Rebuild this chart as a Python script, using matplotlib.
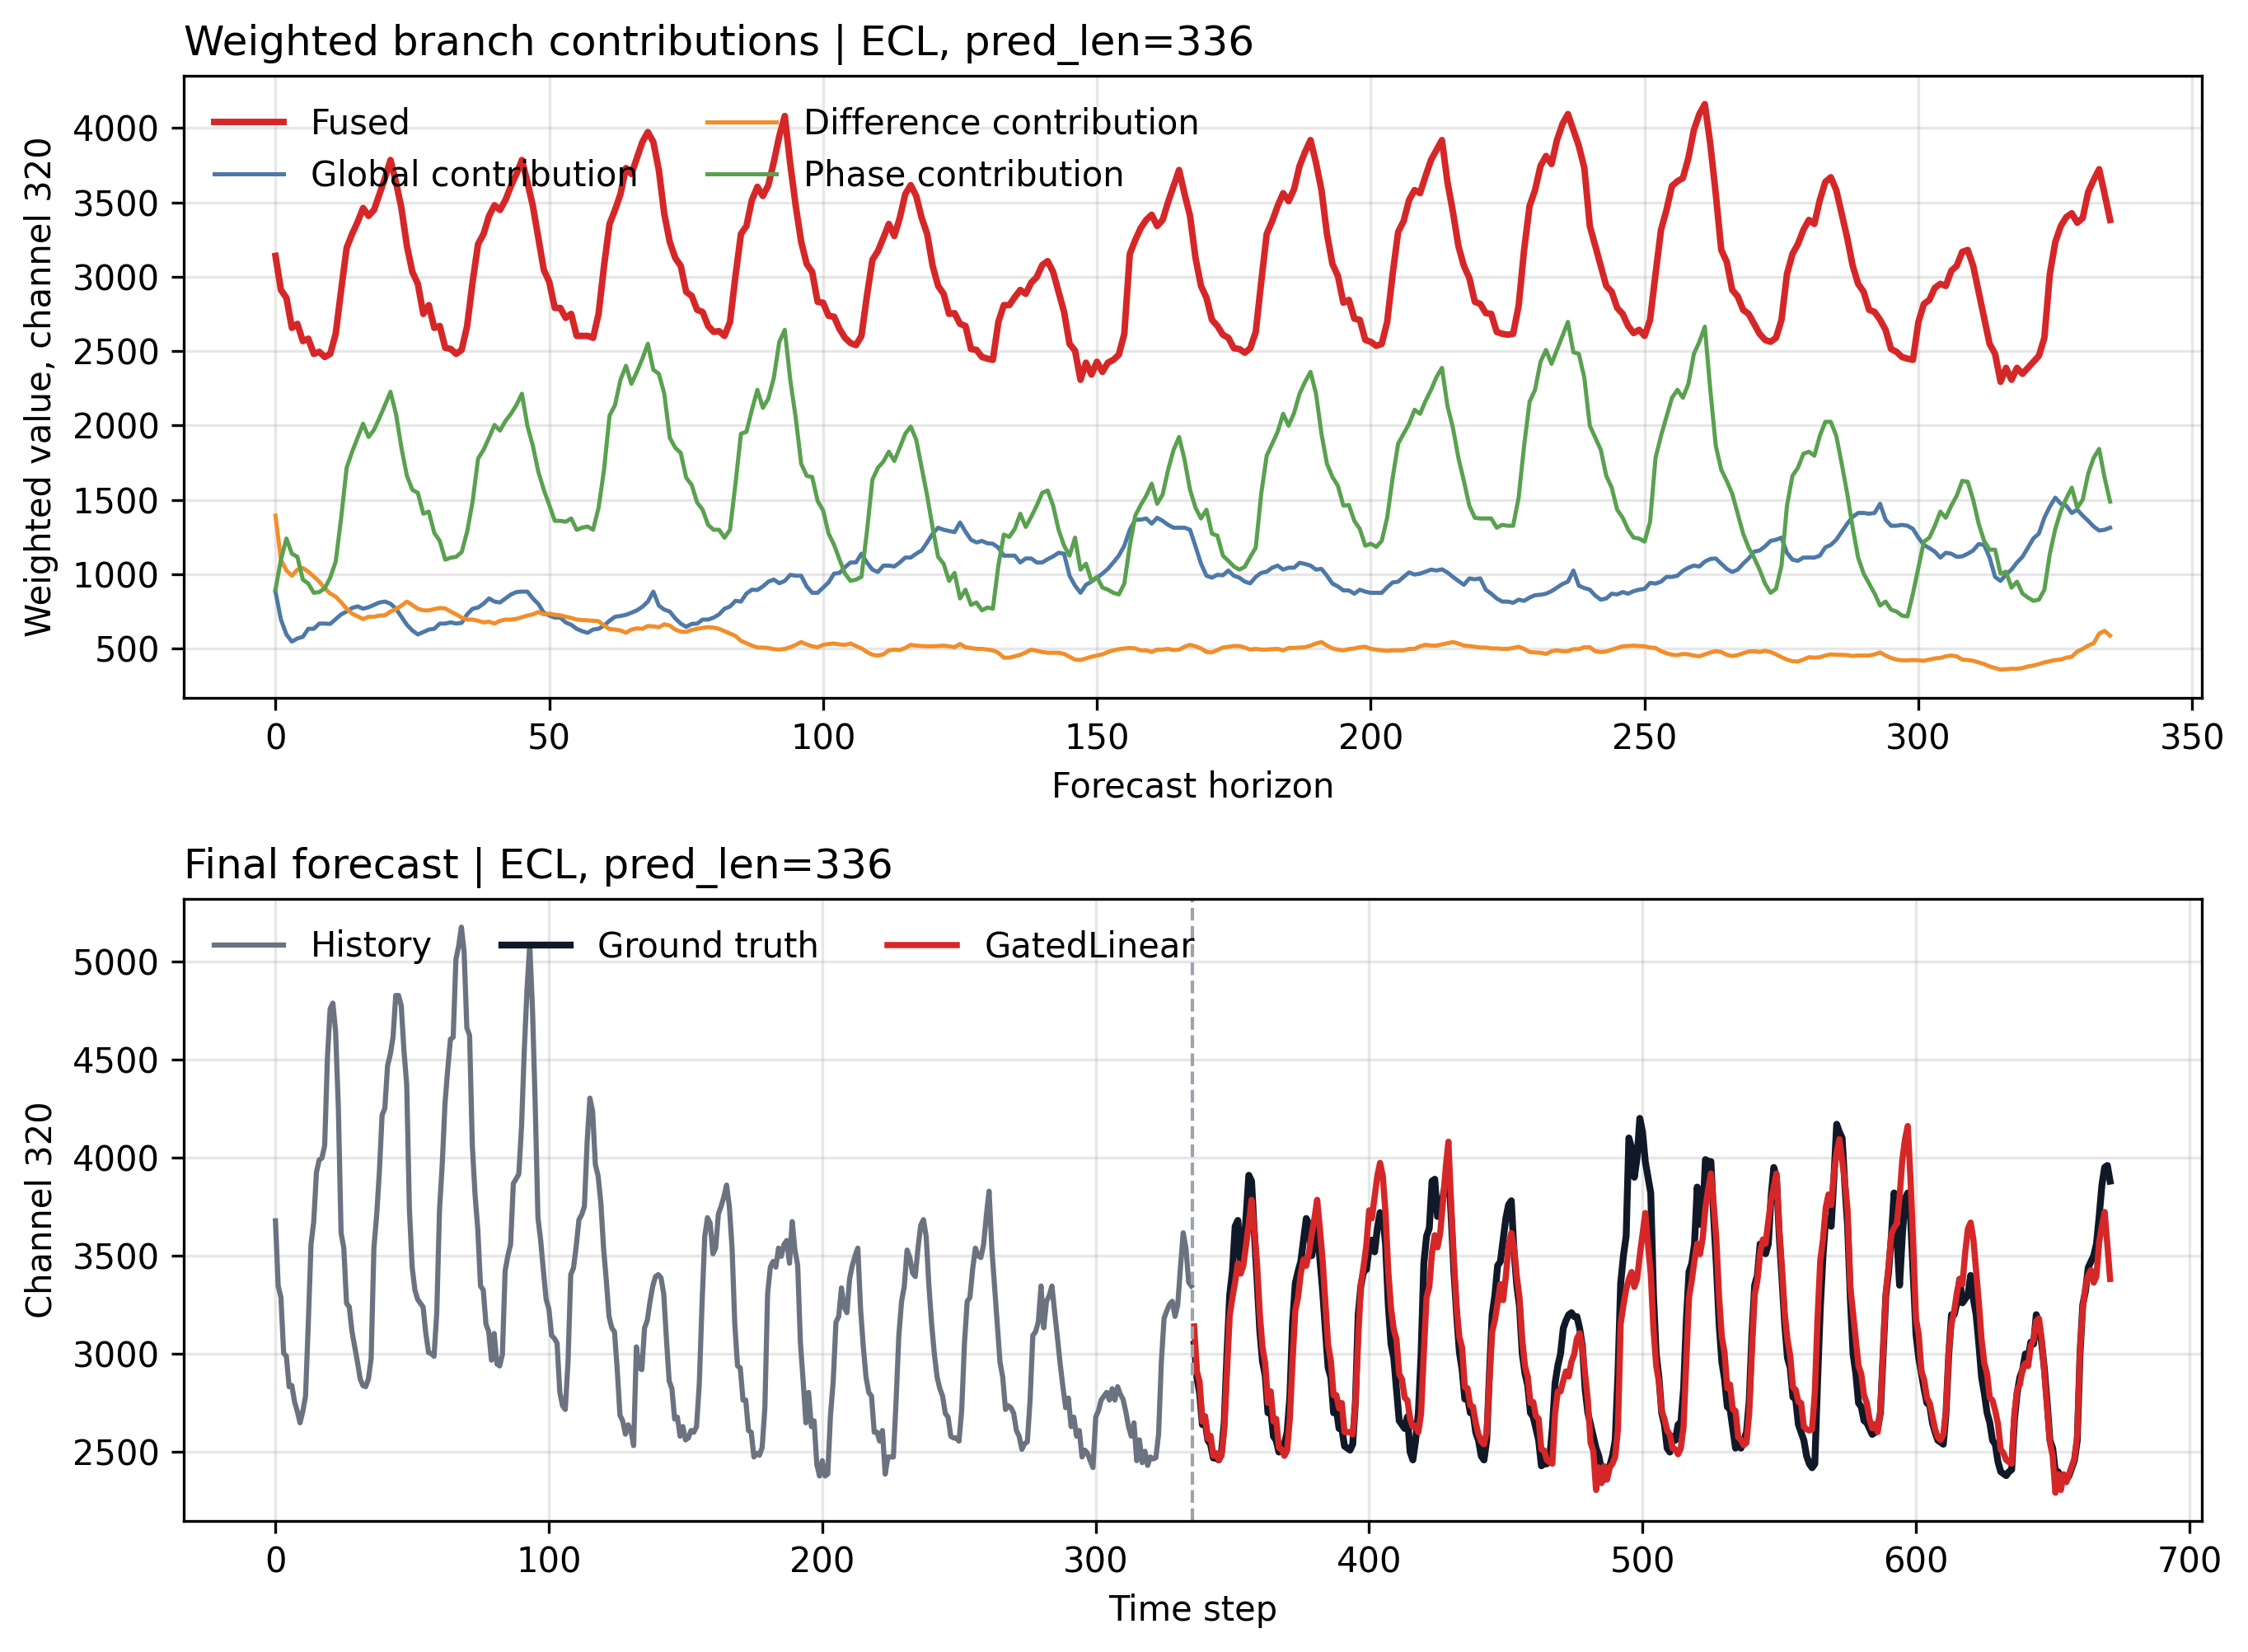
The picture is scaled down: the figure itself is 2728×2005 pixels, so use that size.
import numpy as np
import matplotlib
matplotlib.use("Agg")
import matplotlib.pyplot as plt

# ---------------- data ----------------
fused = [3140,2911,2858,2656,2683,2567,2583,2481,2495,2460,
2481,2616,2911,3194,3288,3368,3462,3409,3449,3556,
3664,3785,3637,3462,3207,3032,2952,2750,2809,2656,
2669,2522,2514,2481,2508,2669,2965,3220,3288,3409,
3481,3449,3516,3610,3691,3785,3637,3476,3261,3046,
2965,2790,2790,2723,2750,2602,2602,2602,2589,2750,
3073,3355,3449,3556,3731,3691,3798,3906,3973,3906,
3718,3422,3234,3126,3073,2898,2871,2777,2763,2669,
2629,2634,2602,2696,3005,3288,3341,3516,3605,3543,
3616,3772,3946,4081,3758,3476,3234,3086,3032,2831,
2825,2737,2731,2648,2589,2554,2540,2602,2871,3113,
3172,3261,3355,3274,3395,3556,3616,3543,3395,3288,
3073,2938,2885,2750,2755,2683,2669,2514,2508,2460,
2449,2441,2696,2809,2809,2863,2911,2885,2960,2997,
3078,3105,3032,2898,2763,2548,2503,2307,2422,2342,
2428,2360,2422,2441,2476,2616,3153,3247,3328,3382,
3417,3341,3382,3503,3610,3718,3556,3409,3126,2938,
2858,2710,2669,2610,2589,2519,2514,2489,2519,2629,
2965,3288,3374,3476,3562,3508,3589,3745,3839,3919,
3766,3583,3288,3086,3005,2825,2844,2718,2710,2575,
2562,2535,2548,2696,3019,3301,3374,3516,3583,3562,
3677,3785,3852,3919,3637,3436,3207,3073,2992,2831,
2817,2755,2750,2629,2616,2610,2616,2804,3180,3476,
3583,3745,3812,3758,3919,4027,4094,3987,3879,3731,
3341,3207,3073,2938,2898,2790,2750,2669,2621,2643,
2602,2710,3019,3315,3449,3610,3642,3664,3798,3987,
4094,4161,3892,3556,3180,3100,2911,2868,2777,2750,
2683,2616,2575,2562,2589,2710,3019,3153,3220,3315,
3382,3355,3516,3637,3669,3583,3422,3261,3073,2952,
2898,2777,2763,2710,2643,2514,2495,2460,2449,2441,
2696,2817,2844,2925,2952,2938,3040,3073,3167,3180,
3073,2898,2723,2548,2481,2293,2387,2307,2387,2347,
2387,2428,2468,2589,3019,3234,3341,3401,3427,3363,
3395,3570,3651,3723,3556,3382]

global_contrib = [882,694,594,546,567,578,632,632,667,667,
665,697,729,748,772,783,767,777,793,809,
815,801,767,713,659,621,594,610,627,632,
667,667,675,667,672,729,767,775,801,836,
815,809,836,863,879,882,882,836,799,740,
721,707,707,675,659,632,616,605,627,632,
654,686,713,718,726,740,756,780,815,882,
788,761,748,702,667,645,665,667,694,694,
707,729,767,782,820,815,869,895,893,917,
949,963,938,954,995,989,989,917,874,874,
909,944,1003,1008,1046,1078,1078,1137,1078,1030,
1014,1057,1057,1051,1078,1111,1111,1137,1159,1213,
1272,1312,1298,1290,1282,1347,1285,1231,1213,1223,
1207,1204,1178,1124,1124,1124,1078,1105,1105,1078,
1078,1100,1119,1143,1137,989,922,874,928,949,
976,1003,1035,1078,1124,1191,1298,1366,1366,1374,
1339,1379,1358,1331,1312,1312,1312,1298,1186,1070,
989,976,995,992,1024,989,976,949,938,981,
1008,1016,1043,1057,1030,1043,1043,1076,1068,1057,
1030,1035,989,936,917,890,890,868,895,882,
874,874,874,912,944,949,981,1011,997,1003,
1016,1030,1024,1032,1011,981,954,928,971,965,
971,895,868,836,815,815,807,828,820,842,
858,861,868,885,909,933,949,1024,922,906,
895,855,828,836,868,863,879,868,885,895,
901,941,936,949,981,981,989,1022,1043,1057,
1051,1084,1102,1105,1070,1035,1014,1030,1070,1105,
1151,1159,1186,1223,1231,1245,1143,1097,1089,1111,
1111,1111,1124,1180,1196,1231,1285,1339,1385,1411,
1411,1406,1411,1473,1366,1325,1325,1331,1325,1304,
1245,1196,1175,1151,1111,1143,1137,1116,1119,1137,
1159,1202,1196,1111,981,954,997,1030,1078,1116,
1178,1240,1272,1379,1454,1514,1473,1460,1411,1433,
1393,1358,1320,1293,1298,1312]

difference_contrib = [1393,1097,1024,989,1030,1041,1016,984,949,904,
869,848,810,767,734,716,697,713,713,721,
723,748,764,788,815,791,767,756,756,764,
772,769,748,729,707,694,694,686,675,680,
667,686,694,694,699,710,721,729,745,729,
734,726,723,713,705,694,691,689,686,683,
654,630,627,621,605,627,635,632,651,648,
643,662,654,627,613,611,624,632,638,643,
640,632,616,600,584,551,535,519,506,506,
503,495,492,497,508,524,543,527,514,508,
524,530,533,527,524,533,516,500,476,457,
452,460,487,492,489,503,524,519,516,514,
514,516,519,514,508,530,508,503,497,497,
492,487,471,438,438,447,457,473,492,484,
476,471,471,471,463,444,425,422,433,444,
452,460,476,487,495,500,503,500,487,487,
476,492,492,497,489,492,511,524,514,500,
476,473,489,506,511,516,516,506,492,497,
492,492,495,497,487,503,503,506,508,519,
533,543,519,500,492,487,495,500,508,511,
497,492,487,484,487,487,487,497,497,514,
524,519,519,527,535,543,533,519,516,511,
506,506,500,500,497,497,503,511,497,476,
473,471,463,481,487,481,481,495,495,508,
508,481,476,479,492,503,514,516,519,516,
514,506,503,481,468,457,455,463,460,452,
447,460,473,481,476,457,449,455,468,479,
481,476,484,476,460,441,425,414,412,425,
441,438,441,452,460,457,457,455,449,452,
452,452,460,473,452,436,425,420,420,422,
420,417,425,433,436,447,452,447,425,422,
417,406,395,379,368,358,360,363,363,368,
379,385,395,406,414,422,425,438,444,479,
497,519,535,600,618,586]

phase_contrib = [895,1097,1239,1137,1116,963,936,874,879,904,
976,1084,1379,1715,1823,1917,2011,1922,1971,2051,
2137,2226,2078,1850,1661,1567,1546,1406,1420,1277,
1223,1097,1110,1116,1148,1285,1487,1777,1836,1917,
2003,1965,2030,2078,2137,2213,1998,1863,1688,1567,
1465,1358,1358,1352,1374,1298,1312,1320,1298,1446,
1702,2065,2137,2307,2401,2280,2360,2449,2549,2374,
2347,2213,1917,1850,1815,1648,1600,1481,1433,1331,
1298,1298,1245,1298,1608,1944,1957,2105,2239,2118,
2180,2320,2562,2643,2307,2051,1742,1661,1653,1492,
1428,1272,1197,1097,1003,954,963,981,1285,1635,
1715,1756,1823,1761,1850,1944,1992,1904,1715,1527,
1312,1116,1070,954,1008,836,895,793,809,756,
775,767,1057,1266,1250,1304,1406,1317,1385,1460,
1546,1562,1460,1298,1191,1124,1245,1030,1070,954,
981,909,895,874,863,936,1191,1393,1465,1527,
1608,1473,1535,1702,1836,1922,1769,1567,1446,1374,
1433,1272,1258,1124,1089,1051,1030,1049,1116,1178,
1541,1796,1877,1957,2078,1998,2084,2213,2293,2360,
2213,1944,1742,1653,1594,1460,1465,1358,1304,1191,
1204,1183,1223,1379,1648,1877,1944,2011,2105,2078,
2164,2239,2325,2387,2132,1984,1782,1627,1460,1379,
1374,1374,1374,1312,1331,1325,1325,1514,1863,2159,
2239,2428,2508,2414,2508,2602,2696,2492,2481,2320,
1998,1917,1836,1661,1581,1433,1379,1298,1245,1239,
1218,1352,1782,1930,2057,2186,2239,2186,2280,2481,
2562,2664,2239,1863,1702,1627,1541,1406,1272,1178,
1110,1030,936,874,901,1057,1460,1661,1715,1809,
1823,1796,1930,2024,2024,1930,1742,1541,1312,1110,
1003,936,869,788,815,761,748,721,715,869,
1043,1218,1245,1325,1420,1379,1460,1527,1627,1621,
1500,1339,1223,1164,1164,1003,1016,909,949,869,
842,820,828,895,1137,1304,1425,1508,1581,1446,
1500,1675,1782,1842,1648,1487]

history = [3678,3346,3288,3004,2988,2833,2839,2755,2707,2649,
2707,2785,3152,3558,3674,3926,3988,3998,4062,4507,
4758,4787,4642,4255,3617,3539,3258,3239,3113,3036,
2958,2872,2839,2833,2872,2978,3539,3704,3926,4216,
4251,4468,4526,4613,4826,4826,4774,4545,4371,3733,
3442,3326,3278,3258,3239,3104,3007,3001,2988,3210,
3733,3965,4274,4449,4603,4613,5010,5077,5174,5048,
4661,4623,4062,3810,3636,3346,3326,3152,3113,2968,
3104,2949,2939,2997,3423,3500,3558,3868,3891,3916,
4158,4545,4855,5087,4758,4274,3694,3578,3423,3278,
3229,3094,3079,3055,2804,2736,2717,2958,3404,3438,
3549,3684,3709,3752,4081,4303,4236,3965,3907,3771,
3539,3375,3191,3133,3113,2920,2688,2659,2591,2639,
2610,2533,3036,2929,2920,3133,3171,3268,3346,3394,
3404,3388,3307,3075,2862,2823,2668,2678,2581,2630,
2562,2572,2610,2601,2630,2843,3249,3597,3694,3665,
3510,3539,3713,3752,3800,3860,3752,3539,3152,2939,
2929,2765,2765,2610,2601,2475,2494,2484,2523,2726,
3307,3442,3471,3442,3539,3497,3558,3578,3462,3674,
3529,3452,3055,2862,2649,2804,2630,2659,2436,2378,
2456,2378,2388,2688,2862,3162,3191,3336,3239,3210,
3384,3452,3500,3539,3229,3036,2881,2804,2785,2601,
2601,2556,2610,2388,2475,2475,2475,2765,3094,3268,
3346,3529,3491,3413,3394,3539,3655,3684,3597,3346,
3152,2997,2881,2823,2785,2697,2678,2581,2572,2572,
2556,2717,3055,3268,3288,3433,3539,3500,3491,3558,
3704,3829,3539,3346,3152,2958,2881,2717,2736,2726,
2697,2610,2581,2514,2543,2552,2765,3094,3113,3162,
3346,3133,3268,3297,3346,3210,3084,2949,2833,2726,
2775,2630,2678,2581,2610,2475,2510,2494,2456,2421,
2678,2711,2765,2785,2804,2765,2823,2765,2833,2795,
2769,2707,2630,2581,2649,2456,2562,2446,2504,2432,
2475,2465,2471,2591,2958,3181,3220,3253,3268,3191,
3249,3442,3617,3539,3365,3346]

ground_truth = [3050,2880,2800,2640,2660,2560,2540,2470,2470,2460,
2500,2650,3000,3300,3420,3650,3680,3460,3520,3700,
3910,3880,3620,3380,3120,2960,2890,2700,2720,2580,
2560,2500,2520,2540,2600,2780,3160,3360,3420,3470,
3580,3690,3660,3500,3580,3650,3480,3320,3120,2930,
2880,2700,2720,2620,2620,2530,2520,2510,2540,2760,
3200,3350,3420,3430,3540,3580,3520,3640,3720,3700,
3560,3250,3050,2980,2820,2660,2640,2620,2680,2500,
2460,2560,2700,3000,3460,3600,3640,3880,3890,3700,
3720,3800,3880,3960,3700,3420,3200,3010,2920,2770,
2780,2700,2700,2600,2560,2480,2460,2560,2900,3200,
3300,3450,3470,3580,3690,3760,3780,3520,3350,3240,
3000,2900,2840,2700,2680,2620,2560,2430,2440,2440,
2470,2620,2850,2940,3000,3130,3170,3200,3210,3190,
3190,3130,3040,2820,2700,2640,2580,2520,2480,2410,
2360,2380,2430,2480,2560,2900,3360,3500,3600,4100,
4050,3900,4000,4200,4130,3980,3900,3820,3300,3000,
2880,2700,2640,2520,2500,2580,2560,2640,2650,2820,
3170,3420,3460,3560,3850,3660,3700,3990,3980,3980,
3700,3450,3150,2960,2870,2730,2720,2620,2520,2540,
2520,2560,2600,2760,3100,3350,3400,3560,3560,3510,
3560,3800,3950,3900,3600,3380,3150,2980,2930,2780,
2770,2640,2600,2560,2480,2440,2420,2440,2850,3230,
3500,3690,3690,3650,3900,4170,4130,4100,3860,3650,
3280,3000,2900,2750,2730,2660,2650,2620,2590,2600,
2620,2700,3000,3300,3420,3600,3820,3600,3350,3600,
3790,3820,3700,3400,3100,2980,2900,2820,2750,2740,
2650,2600,2560,2550,2540,2700,3000,3200,3200,3260,
3380,3260,3280,3300,3400,3280,3200,3050,2880,2800,
2700,2650,2560,2540,2450,2400,2390,2380,2400,2410,
2660,2800,2880,2920,3000,2980,3060,3050,3200,3150,
3050,2920,2750,2560,2520,2400,2400,2360,2380,2360,
2380,2420,2460,2560,3000,3250,3320,3440,3470,3500,
3560,3700,3860,3950,3960,3880]

gated_linear = fused  # final forecast of the model (same series as "Fused")

top_title = "Weighted branch contributions | ECL, pred_len=336"
bottom_title = "Final forecast | ECL, pred_len=336"

# ---------------- figure ----------------
W, H, DPI = 2729, 2005, 300
fig = plt.figure(figsize=(W / DPI, H / DPI), dpi=DPI)

TITLE_FS = 12
BASE_FS = 10

ax1 = fig.add_axes([0.0817, 0.5776, 0.8974, 0.3765])
ax2 = fig.add_axes([0.0817, 0.0793, 0.8974, 0.3766])

h = np.arange(len(fused))
ax1.plot(h, fused, color="#d62728", lw=1.9, label="Fused")
ax1.plot(h, global_contrib, color="#4e79a7", lw=1.2, label="Global contribution")
ax1.plot(h, difference_contrib, color="#f28e2b", lw=1.2, label="Difference contribution")
ax1.plot(h, phase_contrib, color="#59a14f", lw=1.2, label="Phase contribution")
ax1.set_title(top_title, loc="left", fontsize=TITLE_FS)
ax1.set_xlabel("Forecast horizon", fontsize=BASE_FS)
ax1.set_ylabel("Weighted value, channel 320", fontsize=BASE_FS)
ax1.grid(True, alpha=0.3)
ax1.legend(loc="upper left", ncol=2, frameon=False, fontsize=BASE_FS)
ax1.tick_params(labelsize=BASE_FS)

n_hist = len(history)
xh = np.arange(n_hist)
xf = np.arange(n_hist, n_hist + len(ground_truth))
ax2.plot(xh, history, color="#6b7280", lw=1.5, label="History")
ax2.plot(xf, ground_truth, color="#111827", lw=2.0, label="Ground truth")
ax2.plot(xf, gated_linear, color="#d62728", lw=1.8, label="GatedLinear")
ax2.axvline(n_hist - 0.5, color="#9ca3af", lw=1.0, ls="--")
ax2.set_title(bottom_title, loc="left", fontsize=TITLE_FS)
ax2.set_xlabel("Time step", fontsize=BASE_FS)
ax2.set_ylabel("Channel 320", fontsize=BASE_FS)
ax2.grid(True, alpha=0.3)
ax2.legend(loc="upper left", ncol=3, frameon=False, fontsize=BASE_FS)
ax2.tick_params(labelsize=BASE_FS)

fig.savefig("out.png", dpi=DPI)
